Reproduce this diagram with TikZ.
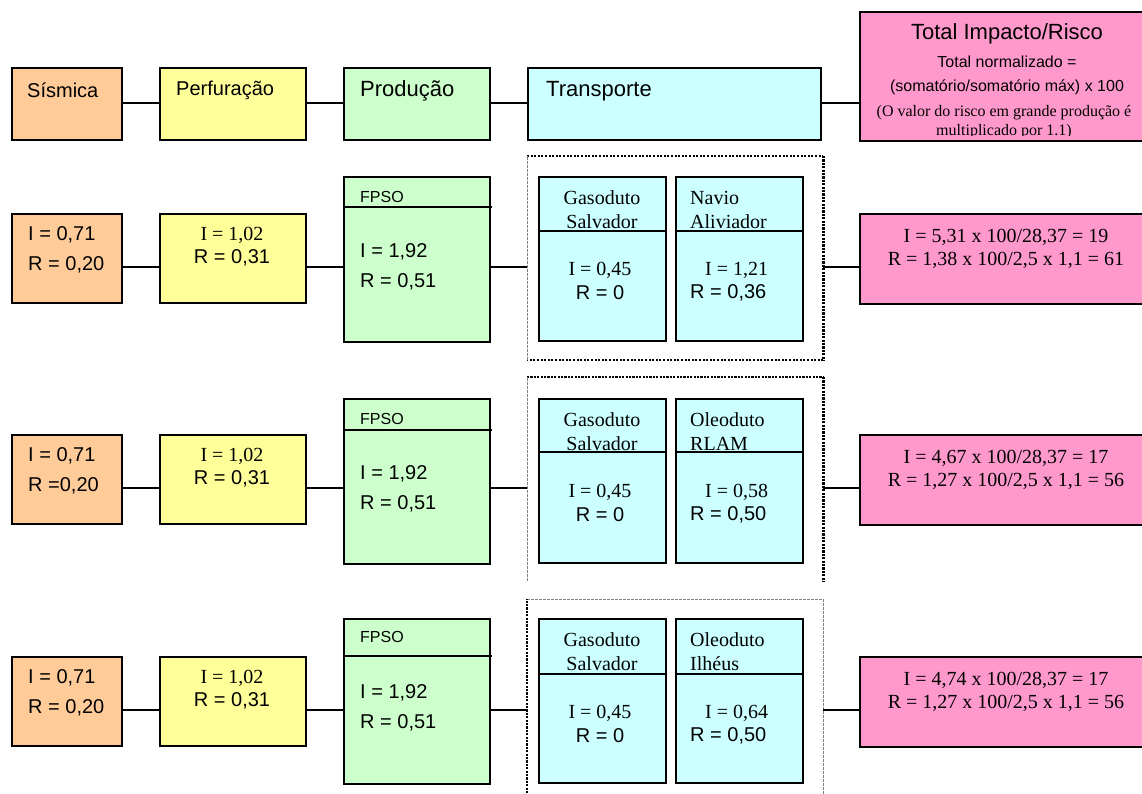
\documentclass[tikz,border=0pt]{standalone}
\usepackage{fontspec}
\setmainfont{Liberation Serif}
\setsansfont{Liberation Sans}
\usetikzlibrary{positioning}

\definecolor{orng}{HTML}{FFCC99}
\definecolor{yel}{HTML}{FFFF99}
\definecolor{grn}{HTML}{CCFFCC}
\definecolor{cyn}{HTML}{CCFFFF}
\definecolor{pnk}{HTML}{FF99CC}

\begin{document}
\begin{tikzpicture}[x=1pt, y=-1pt,
    box/.style   = {draw, line width=1.8pt, inner sep=0pt, anchor=north west},
    cell/.style  = {box, minimum width=110pt, minimum height=89pt, fill=orng},
    wide/.style  = {box, minimum width=146pt, minimum height=89pt, fill=yel},
    tall/.style  = {box, minimum width=146pt, minimum height=165pt, fill=grn},
    duct/.style  = {box, minimum width=127pt, minimum height=164pt, fill=cyn},
    sum/.style   = {box, minimum width=300pt, minimum height=90pt, fill=pnk},
    frame/.style = {inner sep=0pt, anchor=north west, minimum width=296pt,
                    minimum height=204pt},
    link/.style  = {line width=1.8pt},
    sf/.style    = {font=\sffamily\fontsize{20}{24}\selectfont, inner sep=0pt},
    rm/.style    = {font=\rmfamily\fontsize{20}{24}\selectfont, inner sep=0pt},
    hd/.style    = {font=\sffamily\fontsize{22}{26}\selectfont, inner sep=0pt},
    sml/.style   = {font=\sffamily\fontsize{16}{19}\selectfont, inner sep=0pt},
    smr/.style   = {font=\rmfamily\fontsize{16}{19}\selectfont, inner sep=0pt},
    thk/.style   = {line width=2.4pt, dash pattern=on 2.2pt off 1.2pt},
    mix/.style   = {line width=2pt, dash pattern=on 2pt off 1.6pt},
    thn/.style   = {line width=0.7pt, draw=black!50, dash pattern=on 3pt off 1pt},
  ]
  \clip (0,0) rectangle (1142,794);

  % header row
  \node[cell, minimum height=72pt] (sis0) at (11,67) {};
  \node[wide, minimum height=72pt] (per0) at (159,67) {};
  \node[tall, minimum height=72pt] (pro0) at (343,67) {};
  \node[duct, minimum width=293pt, minimum height=72pt] (tra0) at (527,67) {};
  \node[sum, minimum height=129pt] (tot0) at (859,11) {};
  \node[sf, anchor=west] (sis0t) at (27,90) {Sísmica};
  \node[sf, anchor=west] (per0t) at (176,90) {Perfuração};
  \node[hd, anchor=west] (pro0t) at (360,91) {Produção};
  \node[hd, anchor=west] (tra0t) at (546,91) {Transporte};
  \begin{scope}
    \clip (860,12) rectangle (1142,136);
    \node[hd]  (tot0a) at (1007,34) {Total Impacto/Risco};
    \node[sml] (tot0b) at (1007,62) {Total normalizado =};
    \node[sml] (tot0c) at (1007,87) {(somatório/somatório máx) x 100};
    \node[smr] (tot0d) at (1004,113) {(O valor do risco em grande produção é};
    \node[smr] (tot0e) at (1004,132) {multiplicado por 1.1)};
  \end{scope}
  \coordinate (c0) at (0,103);
  \draw[link] (sis0.east |- c0) -- (per0.west |- c0);
  \draw[link] (per0.east |- c0) -- (pro0.west |- c0);
  \draw[link] (pro0.east |- c0) -- (tra0.west |- c0);
  \draw[link] (tra0.east |- c0) -- (tot0.west |- c0);

  % row 1
  \node[cell] (sis1) at (11,213) {};
  \node[sf, anchor=west] (sis1i) at (28,235) {I = 0,71};
  \node[sf, anchor=west] (sis1r) at (28,265) {R = 0,20};
  \node[wide] (per1) at (159,213) {};
  \node[rm] (per1i) at (232,235) {I = 1,02};
  \node[sf] (per1r) at (232,258) {R = 0,31};
  \node[tall] (pro1) at (343,176) {};
  \draw[link] (pro1.west |- 0,207) -- ++(149,0);
  \node[sml, anchor=west] (pro1n) at (360,197) {FPSO};
  \node[sf, anchor=west] (pro1i) at (360,252) {I = 1,92};
  \node[sf, anchor=west] (pro1r) at (360,282) {R = 0,51};
  \node[frame] (fr1) at (527,156) {};
  \draw[mix] (fr1.north west) -- (fr1.north east);
  \draw[thk] (fr1.north east) -- (fr1.south east);
  \draw[mix] (fr1.south east) -- (fr1.south west);
  \draw[thn] (fr1.south west) -- (fr1.north west);
  \node[duct] (gas1) at (538,176) {};
  \draw[link] (gas1.west |- 0,231) -- (gas1.east |- 0,231);
  \node[rm, align=center] (gas1n) at (602,210) {Gasoduto\\Salvador};
  \node[rm] (gas1i) at (600,270) {I = 0,45};
  \node[sf] (gas1r) at (600,293) {R = 0};
  \node[duct] (nav1) at (675,176) {};
  \draw[link] (nav1.west |- 0,231) -- ++(129,0);
  \node[rm, align=left, anchor=west] (nav1n) at (690,210) {Navio\\Aliviador};
  \node[rm, anchor=west] (nav1i) at (705,270) {I = 1,21};
  \node[sf, anchor=west] (nav1r) at (690,293) {R = 0,36};
  \node[sum] (tot1) at (859,213) {};
  \node[rm] (tot1i) at (1006,237) {I = 5,31 x 100/28,37 = 19};
  \node[rm] (tot1r) at (1006,260) {R = 1,38 x 100/2,5 x 1,1 = 61};
  \coordinate (c1) at (0,267);
  \draw[link] (sis1.east |- c1) -- (per1.west |- c1);
  \draw[link] (per1.east |- c1) -- (pro1.west |- c1);
  \draw[link] (pro1.east |- c1) -- (fr1.west |- c1);
  \draw[link] (fr1.east |- c1) -- (tot1.west |- c1);

  % row 2
  \node[cell] (sis2) at (11,434) {};
  \node[sf, anchor=west] (sis2i) at (28,456) {I = 0,71};
  \node[sf, anchor=west] (sis2r) at (28,486) {R =0,20};
  \node[wide] (per2) at (159,434) {};
  \node[rm] (per2i) at (232,456) {I = 1,02};
  \node[sf] (per2r) at (232,479) {R = 0,31};
  \node[tall] (pro2) at (343,398) {};
  \draw[link] (pro2.west |- 0,430) -- ++(149,0);
  \node[sml, anchor=west] (pro2n) at (360,419) {FPSO};
  \node[sf, anchor=west] (pro2i) at (360,474) {I = 1,92};
  \node[sf, anchor=west] (pro2r) at (360,504) {R = 0,51};
  \node[frame] (fr2) at (527,377) {};
  \draw[thk] (fr2.north west) -- (fr2.north east);
  \draw[thk] (fr2.north east) -- (fr2.south east);
  \draw[thn] (fr2.south west) -- (fr2.north west);
  \node[duct] (gas2) at (538,398) {};
  \draw[link] (gas2.west |- 0,452) -- (gas2.east |- 0,452);
  \node[rm, align=center] (gas2n) at (602,432) {Gasoduto\\Salvador};
  \node[rm] (gas2i) at (600,492) {I = 0,45};
  \node[sf] (gas2r) at (600,515) {R = 0};
  \node[duct] (oil2) at (675,398) {};
  \draw[link] (oil2.west |- 0,452) -- ++(129,0);
  \node[rm, align=left, anchor=west] (oil2n) at (690,432) {Oleoduto\\RLAM};
  \node[rm, anchor=west] (oil2i) at (705,492) {I = 0,58};
  \node[sf, anchor=west] (oil2r) at (690,515) {R = 0,50};
  \node[sum] (tot2) at (859,434) {};
  \node[rm] (tot2i) at (1006,458) {I = 4,67 x 100/28,37 = 17};
  \node[rm] (tot2r) at (1006,481) {R = 1,27 x 100/2,5 x 1,1 = 56};
  \coordinate (c2) at (0,488);
  \draw[link] (sis2.east |- c2) -- (per2.west |- c2);
  \draw[link] (per2.east |- c2) -- (pro2.west |- c2);
  \draw[link] (pro2.east |- c2) -- (fr2.west |- c2);
  \draw[link] (fr2.east |- c2) -- (tot2.west |- c2);

  % row 3
  \node[cell] (sis3) at (11,656) {};
  \node[sf, anchor=west] (sis3i) at (28,678) {I = 0,71};
  \node[sf, anchor=west] (sis3r) at (28,708) {R = 0,20};
  \node[wide] (per3) at (159,656) {};
  \node[rm] (per3i) at (232,678) {I = 1,02};
  \node[sf] (per3r) at (232,701) {R = 0,31};
  \node[tall] (pro3) at (343,618) {};
  \draw[link] (pro3.west |- 0,656) -- ++(149,0);
  \node[sml, anchor=west] (pro3n) at (360,637) {FPSO};
  \node[sf, anchor=west] (pro3i) at (360,693) {I = 1,92};
  \node[sf, anchor=west] (pro3r) at (360,723) {R = 0,51};
  \node[frame] (fr3) at (527,599) {};
  \draw[thn] (fr3.north west) -- (fr3.north east);
  \draw[thn] (fr3.north east) -- (fr3.south east);
  \draw[thk] (fr3.south west) -- (fr3.north west);
  \node[duct] (gas3) at (538,618) {};
  \draw[link] (gas3.west |- 0,674) -- (gas3.east |- 0,674);
  \node[rm, align=center] (gas3n) at (602,652) {Gasoduto\\Salvador};
  \node[rm] (gas3i) at (600,713) {I = 0,45};
  \node[sf] (gas3r) at (600,736) {R = 0};
  \node[duct] (oil3) at (675,618) {};
  \draw[link] (oil3.west |- 0,674) -- ++(129,0);
  \node[rm, align=left, anchor=west] (oil3n) at (690,652) {Oleoduto\\Ilhéus};
  \node[rm, anchor=west] (oil3i) at (705,713) {I = 0,64};
  \node[sf, anchor=west] (oil3r) at (690,736) {R = 0,50};
  \node[sum] (tot3) at (859,656) {};
  \node[rm] (tot3i) at (1006,680) {I = 4,74 x 100/28,37 = 17};
  \node[rm] (tot3r) at (1006,703) {R = 1,27 x 100/2,5 x 1,1 = 56};
  \coordinate (c3) at (0,710);
  \draw[link] (sis3.east |- c3) -- (per3.west |- c3);
  \draw[link] (per3.east |- c3) -- (pro3.west |- c3);
  \draw[link] (pro3.east |- c3) -- (fr3.west |- c3);
  \draw[link] (fr3.east |- c3) -- (tot3.west |- c3);
\end{tikzpicture}
\end{document}
